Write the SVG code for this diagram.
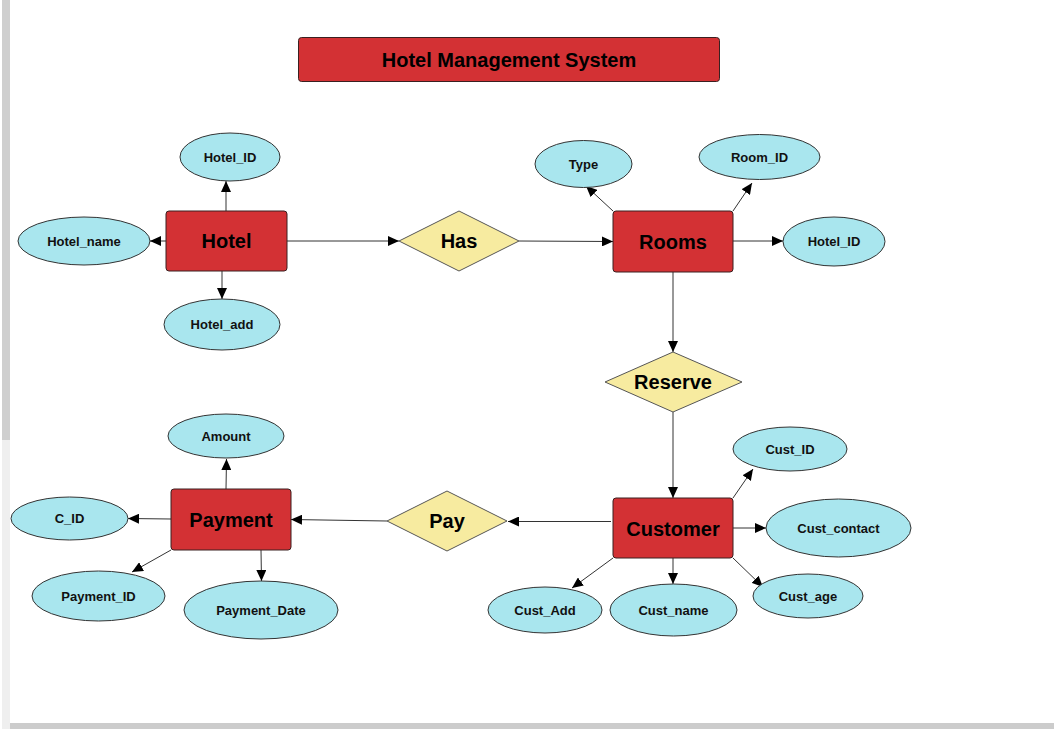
<svg xmlns="http://www.w3.org/2000/svg" width="1054" height="729" viewBox="0 0 1054 729">
<defs>
<style>
.ent{fill:#d33134;stroke:#3a2020;stroke-width:1}
.rel{fill:#f7eba0;stroke:#555;stroke-width:1}
.att{fill:#a9e6ee;stroke:#333;stroke-width:1}
.t-ent{font-family:"Liberation Sans",Arial,sans-serif;font-weight:bold;font-size:20px;fill:#000;text-anchor:middle;dominant-baseline:central}
.t-att{font-family:"Liberation Sans",Arial,sans-serif;font-weight:bold;font-size:13px;fill:#111;text-anchor:middle;dominant-baseline:central}
.con line{stroke:#333;stroke-width:1;marker-end:url(#arr)}
</style>
<marker id="arr" markerUnits="userSpaceOnUse" markerWidth="12" markerHeight="10" refX="11" refY="5" orient="auto">
<path d="M0,0 L11,5 L0,10 Z" fill="#000"/>
</marker>
</defs>
<rect x="0" y="0" width="1054" height="729" fill="#fff"/>
<rect x="2" y="0" width="8" height="440" fill="#cfcfcf"/>
<rect x="2" y="440" width="8" height="289" fill="#efefef"/>
<rect x="10" y="723" width="1044" height="6" fill="#cccccc"/>

<g id="title">
<rect x="298.5" y="37.5" width="421" height="44" rx="3" class="ent"/>
<text x="509" y="60" class="t-ent">Hotel Management System</text>
</g>

<g class="con" id="connectors">
<line x1="226" y1="211" x2="226" y2="181"/>
<line x1="166" y1="241" x2="150" y2="241"/>
<line x1="222" y1="271" x2="222" y2="299"/>
<line x1="287" y1="241" x2="399" y2="241"/>
<line x1="519" y1="241" x2="613" y2="241.5"/>
<line x1="613" y1="211" x2="586" y2="186"/>
<line x1="733" y1="211" x2="752" y2="183"/>
<line x1="733" y1="241" x2="783" y2="241"/>
<line x1="673" y1="272" x2="673" y2="352"/>
<line x1="673" y1="412" x2="673" y2="498"/>
<line x1="733" y1="498" x2="753" y2="469"/>
<line x1="733" y1="528" x2="766" y2="528"/>
<line x1="733" y1="558" x2="763" y2="587"/>
<line x1="673" y1="558" x2="673" y2="584"/>
<line x1="613" y1="558" x2="572" y2="588"/>
<line x1="611" y1="521.5" x2="508" y2="521.5"/>
<line x1="387" y1="521" x2="291" y2="519.5"/>
<line x1="226" y1="489" x2="226.5" y2="459"/>
<line x1="171" y1="519" x2="128" y2="518.5"/>
<line x1="171" y1="550" x2="132" y2="572"/>
<line x1="261" y1="550" x2="261.5" y2="581"/>
</g>

<g id="hotel"><rect x="166" y="211" width="121" height="60" rx="3" class="ent"/><text x="226.5" y="241" class="t-ent">Hotel</text></g>
<g id="hotel_id"><ellipse cx="230" cy="157" rx="50" ry="24" class="att"/><text x="230" y="157" class="t-att">Hotel_ID</text></g>
<g id="hotel_name"><ellipse cx="84" cy="241" rx="66" ry="24" class="att"/><text x="84" y="241" class="t-att">Hotel_name</text></g>
<g id="hotel_add"><ellipse cx="222" cy="324.5" rx="58" ry="25.5" class="att"/><text x="222" y="324.5" class="t-att">Hotel_add</text></g>

<g id="has"><polygon points="459,211 519,241 459,271 399,241" class="rel"/><text x="459" y="241" class="t-ent">Has</text></g>

<g id="rooms"><rect x="613" y="211" width="120" height="61" rx="3" class="ent"/><text x="673" y="241.5" class="t-ent">Rooms</text></g>
<g id="type"><ellipse cx="583.5" cy="164" rx="48.5" ry="23.5" class="att"/><text x="583.5" y="164" class="t-att">Type</text></g>
<g id="room_id"><ellipse cx="759.5" cy="157" rx="60.5" ry="22.5" class="att"/><text x="759.5" y="157" class="t-att">Room_ID</text></g>
<g id="rooms_hotel_id"><ellipse cx="834" cy="241.5" rx="51" ry="24.5" class="att"/><text x="834" y="241.5" class="t-att">Hotel_ID</text></g>

<g id="reserve"><polygon points="673,352 742,382 673,412 605,382" class="rel"/><text x="673" y="382" class="t-ent">Reserve</text></g>

<g id="customer"><rect x="613" y="498" width="120" height="60" rx="3" class="ent"/><text x="673" y="528.5" class="t-ent">Customer</text></g>
<g id="cust_id"><ellipse cx="790" cy="449" rx="57" ry="22" class="att"/><text x="790" y="449" class="t-att">Cust_ID</text></g>
<g id="cust_contact"><ellipse cx="838.5" cy="528" rx="72.5" ry="29" class="att"/><text x="838.5" y="528" class="t-att">Cust_contact</text></g>
<g id="cust_age"><ellipse cx="808" cy="596" rx="55" ry="22" class="att"/><text x="808" y="596" class="t-att">Cust_age</text></g>
<g id="cust_name"><ellipse cx="673.5" cy="610" rx="63.5" ry="26" class="att"/><text x="673.5" y="610" class="t-att">Cust_name</text></g>
<g id="cust_add"><ellipse cx="545" cy="610" rx="57" ry="23" class="att"/><text x="545" y="610" class="t-att">Cust_Add</text></g>

<g id="pay"><polygon points="447,491 507,521 447,551 387,521" class="rel"/><text x="447" y="521" class="t-ent">Pay</text></g>

<g id="payment"><rect x="171" y="489" width="120" height="61" rx="3" class="ent"/><text x="231" y="519.5" class="t-ent">Payment</text></g>
<g id="amount"><ellipse cx="226" cy="436" rx="58" ry="22" class="att"/><text x="226" y="436" class="t-att">Amount</text></g>
<g id="c_id"><ellipse cx="69.5" cy="518.5" rx="58.5" ry="21.5" class="att"/><text x="69.5" y="518.5" class="t-att">C_ID</text></g>
<g id="payment_id"><ellipse cx="98.5" cy="596" rx="66.5" ry="25" class="att"/><text x="98.5" y="596" class="t-att">Payment_ID</text></g>
<g id="payment_date"><ellipse cx="261" cy="610" rx="77" ry="29" class="att"/><text x="261" y="610" class="t-att">Payment_Date</text></g>
</svg>
